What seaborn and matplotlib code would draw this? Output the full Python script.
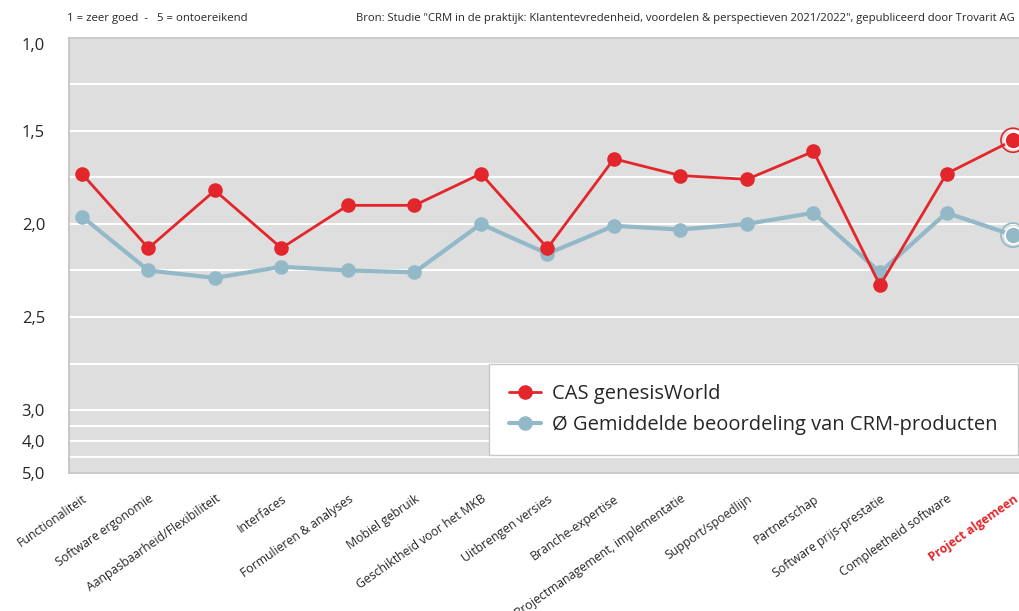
import numpy as np
import pandas as pd
import matplotlib
matplotlib.use("Agg")
import matplotlib.pyplot as plt
import seaborn as sns

# categories and scores (1 = zeer goed, 5 = ontoereikend)
criteria = ["Functionaliteit", "Software ergonomie", "Aanpasbaarheid/Flexibiliteit",
            "Interfaces", "Formulieren & analyses", "Mobiel gebruik",
            "Geschiktheid voor het MKB", "Uitbrengen versies", "Branche-expertise",
            "Projectmanagement, implementatie", "Support/spoedlijn", "Partnerschap",
            "Software prijs-prestatie", "Compleetheid software", "Project algemeen"]
cas = [1.73, 2.13, 1.82, 2.13, 1.90, 1.90, 1.73, 2.13, 1.65, 1.74, 1.76, 1.61, 2.33, 1.73, 1.55]
avg = [1.96, 2.25, 2.29, 2.23, 2.25, 2.26, 2.00, 2.16, 2.01, 2.03, 2.00, 1.94, 2.26, 1.94, 2.06]
series_names = ["CAS genesisWorld", "\u00d8 Gemiddelde beoordeling van CRM-producten"]
y_labels = ["1,0", "1,5", "2,0", "2,5", "3,0", "4,0", "5,0"]
y_label_vals = [1.0, 1.5, 2.0, 2.5, 3.0, 4.0, 5.0]
grid_vals = [1.25, 1.5, 1.75, 2.0, 2.25, 2.5, 2.75, 3.0, 3.5, 4.0, 4.5]

red = "#e3262b"
blue = "#93b9c9"

sns.set_style("white")
plt.rcParams['font.family'] = ['Open Sans', 'DejaVu Sans']

df = pd.DataFrame({"Criterium": criteria * 2,
                   "Score": cas + avg,
                   "Reeks": [series_names[0]] * len(criteria) + [series_names[1]] * len(criteria)})

fig = plt.figure(figsize=(10.2, 6.11), dpi=100)
ax = fig.add_axes([0.0676, 0.226, 0.9324, 0.712])
ax.set_facecolor("#dddedd")

# broken scale: 1..3 linear, 3..5 compressed
k = 0.169
def fwd(y):
    y = np.asarray(y, dtype=float)
    return np.where(y <= 3, y, 3 + (y - 3) * k)
def inv(y):
    y = np.asarray(y, dtype=float)
    return np.where(y <= 3, y, 3 + (y - 3) / k)
ax.set_yscale("function", functions=(fwd, inv))

sns.lineplot(data=df[df["Reeks"] == series_names[0]], x="Criterium", y="Score",
             color=red, marker="o", markersize=10.5, markeredgewidth=0, linewidth=2,
             sort=False, label=series_names[0], ax=ax, zorder=4)
sns.lineplot(data=df[df["Reeks"] == series_names[1]], x="Criterium", y="Score",
             color=blue, marker="o", markersize=10.5, markeredgewidth=0, linewidth=3,
             sort=False, label=series_names[1], ax=ax, zorder=3)

# highlight ring on the overall project score
for vals, c in [(cas, red), (avg, blue)]:
    ax.scatter([criteria[-1]], [vals[-1]], s=300, facecolors="none", edgecolors=c,
               linewidths=1.2, zorder=5)
    ax.scatter([criteria[-1]], [vals[-1]], s=150, color=c, edgecolors="white",
               linewidths=1.2, zorder=6)

ax.set_ylim(5, 1)
ax.set_xlim(-0.195, 14.105)
ax.set_yticks(y_label_vals)
ax.set_yticklabels(y_labels, fontsize=12)
ax.set_yticks(grid_vals, minor=True)
ax.yaxis.grid(True, which="both", color="white", linewidth=1.5)
ax.set_axisbelow(True)
ax.tick_params(axis="y", which="both", length=0, pad=34)
ax.tick_params(axis="x", length=0, pad=14)
for lab in ax.get_yticklabels():
    lab.set_horizontalalignment("left")
ax.get_yticklabels()[0].set_verticalalignment("top")
ax.set_xlabel("")
ax.set_ylabel("")
for s in ["left", "bottom", "top", "right"]:
    ax.spines[s].set_color("#c2c0c0")
    ax.spines[s].set_linewidth(1.2)

ax.set_xticks(range(len(criteria)))
ax.set_xticklabels(criteria, rotation=35, ha="right", rotation_mode="anchor", fontsize=8.8)
last = ax.get_xticklabels()[-1]
last.set_color(red)
last.set_fontweight("bold")

leg = ax.legend(loc="lower right", bbox_to_anchor=(0.998, 0.041), borderaxespad=0,
                fontsize=14.5, frameon=True, fancybox=False, framealpha=1, facecolor="white",
                handlelength=1.6, borderpad=1.0, labelspacing=0.55, handletextpad=0.55)
leg.get_frame().set_edgecolor("#c8c8c8")
leg.get_frame().set_linewidth(1.0)

fig.text(0.066, 0.969, "1 = zeer goed  -   5 = ontoereikend", fontsize=8.2, va="center")
fig.text(0.995, 0.969, "Bron: Studie \"CRM in de praktijk: Klantentevredenheid, voordelen & "
         "perspectieven 2021/2022\", gepubliceerd door Trovarit AG",
         fontsize=8.15, va="center", ha="right")

fig.savefig("out.png", dpi=100)
